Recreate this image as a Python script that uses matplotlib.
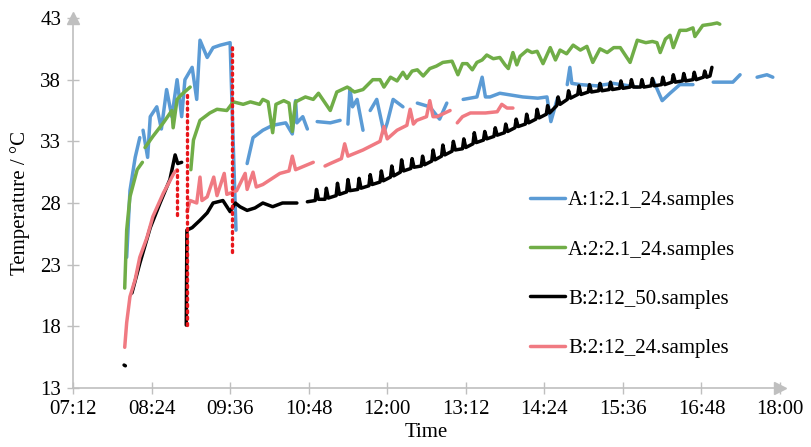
import numpy as np
import matplotlib.pyplot as plt

nan = np.nan

# ---------------- data (time in decimal hours, temperature in degC) ----------------
blue_t = [8.02, 8.07, 8.15, 8.22, nan, 8.27, 8.34, 8.38, 8.48, 8.55, 8.63, 8.71, 8.79, 8.86, 8.91,
          9.02, 9.09, 9.14, 9.25, 9.34, 9.45, 9.60, 9.66, 9.69, nan, 9.86, 9.95, 10.10, 10.25, 10.45,
          10.55, 10.60, 10.62, 10.71, 10.78, nan, 10.93, 11.13, 11.28, nan, 11.40, 11.43, 11.47, 11.54,
          11.63, nan, 11.74, 11.84, 11.95, 12.00, 12.09, 12.24, nan, 12.46, 12.65, 12.80, 12.91, nan,
          13.16, 13.37, 13.45, 13.50, 13.57, 13.72, 14.07, 14.30, 14.44, 14.50, 14.60, nan, 14.75,
          14.79, 14.82, 14.95, 15.20, 15.45, 15.82, nan, 16.06, 16.20, 16.32, 16.47, 16.67, nan,
          16.98, 17.28, 17.39, nan, 17.65, 17.80, 17.89]
blue_y = [23.6, 29.0, 31.7, 33.3, nan, 33.9, 31.7, 35.0, 35.8, 34.0, 37.2, 35.0, 38.0, 35.0, 38.0,
          39.0, 36.4, 41.2, 39.8, 40.6, 40.8, 41.0, 30.7, 25.8, nan, 31.2, 33.3, 33.9, 34.3, 34.5,
          33.6, 36.3, 34.5, 35.0, 34.0, nan, 34.6, 34.5, 34.7, nan, 34.4, 37.3, 35.8, 36.4,
          33.9, nan, 35.5, 36.4, 33.7, 34.5, 36.4, 35.8, nan, 36.1, 35.8, 34.8, 36.1, nan,
          36.4, 36.6, 38.2, 36.6, 36.6, 36.9, 36.6, 36.5, 36.6, 34.6, 36.5, nan, 37.6,
          39.0, 37.7, 37.6, 37.5, 37.7, 37.4, nan, 38.0, 36.3, 36.9, 37.6, 37.6, nan,
          37.8, 37.8, 38.4, nan, 38.2, 38.4, 38.2]

green_t = [7.99, 8.02, 8.07, 8.18, 8.26, nan, 8.30, 8.42, 8.58, 8.71, 8.73, 8.79, 8.86, 8.99, nan,
           9.00, 9.04, 9.14, 9.29, 9.40, 9.55, 9.65, 9.80, 9.91, 10.05, 10.10, 10.18, 10.25, 10.30,
           10.42, 10.50, 10.55, 10.60, 10.75, 10.87, 10.95, 11.13, 11.23, 11.39, 11.50, 11.63, 11.78,
           11.89, 11.95, 12.05, 12.15, 12.24, 12.30, 12.38, 12.46, 12.55, 12.65, 12.75, 12.85, 12.99,
           13.08, 13.15, 13.22, 13.30, 13.37, 13.45, 13.52, 13.62, 13.72, 13.80, 13.85, 13.92, 13.98,
           14.03, 14.14, 14.21, 14.29, 14.38, 14.49, 14.57, 14.64, 14.74, 14.84, 14.95, 15.05, 15.14,
           15.25, 15.36, 15.46, 15.56, 15.71, 15.82, 15.95, 16.05, 16.12, 16.17, 16.25, 16.32, 16.37,
           16.47, 16.57, 16.67, 16.70, 16.82, 16.95, 17.04, 17.08]
green_y = [21.1, 25.8, 28.5, 30.7, 31.3, nan, 32.5, 33.4, 34.5, 35.5, 34.1, 36.4, 36.8, 37.4, nan,
           30.7, 33.1, 34.7, 35.3, 35.6, 35.5, 36.2, 36.0, 36.2, 36.0, 36.4, 36.2, 33.7, 36.0,
           36.3, 36.1, 33.8, 36.2, 36.6, 36.4, 36.9, 35.5, 37.0, 37.4, 37.0, 37.2, 38.0,
           38.0, 37.4, 38.2, 37.9, 38.6, 38.1, 38.7, 38.8, 38.3, 38.9, 39.1, 39.4, 39.5,
           38.4, 39.3, 39.3, 38.8, 39.4, 39.6, 40.0, 39.7, 39.8, 39.2, 38.9, 40.2, 39.2,
           39.9, 40.4, 40.2, 40.3, 39.3, 40.6, 39.6, 40.4, 40.1, 40.8, 40.4, 40.7, 39.4,
           40.5, 40.2, 40.6, 40.6, 39.4, 41.2, 41.0, 41.1, 41.0, 40.2, 41.3, 41.6, 40.6,
           42.0, 42.0, 42.2, 41.5, 42.4, 42.5, 42.6, 42.5]

black_t = [7.98, 8.00, nan, 8.10, 8.22, 8.38, 8.53, 8.68, 8.76, 8.80, 8.86, nan, 8.93, 8.94, 9.02,
           9.14, 9.25, 9.34, 9.49, 9.60, 9.68, 9.75, 9.86, 9.98, 10.10, 10.25, 10.40, 10.62, nan,
           10.78, 10.90, 10.92, 10.95, 11.05, 11.07, 11.10, 11.22, 11.24, 11.27, 11.38, 11.40, 11.43,
           11.55, 11.57, 11.60, 11.72, 11.74, 11.77, 11.89, 11.91, 11.94, 12.05, 12.07, 12.10, 12.20,
           12.22, 12.25, 12.36, 12.38, 12.41, 12.52, 12.54, 12.57, 12.68, 12.70, 12.73, 12.83, 12.85,
           12.88, 12.99, 13.01, 13.04, 13.15, 13.17, 13.20, 13.31, 13.33, 13.36, 13.47, 13.49, 13.52,
           13.63, 13.65, 13.68, 13.79, 13.81, 13.84, 13.95, 13.97, 14.00, 14.11, 14.13, 14.16, 14.27,
           14.29, 14.32, 14.43, 14.45, 14.48, 14.59, 14.61, 14.64, 14.75, 14.77, 14.80, 14.91, 14.93,
           14.96, 15.07, 15.09, 15.12, 15.23, 15.25, 15.28, 15.39, 15.41, 15.44, 15.55, 15.57, 15.60,
           15.71, 15.73, 15.76, 15.87, 15.89, 15.92, 16.03, 16.05, 16.08, 16.19, 16.21, 16.24, 16.35,
           16.37, 16.40, 16.51, 16.53, 16.56, 16.67, 16.69, 16.72, 16.83, 16.85, 16.88, 16.93, 16.96]
black_y = [14.86, 14.80, nan, 20.7, 23.1, 26.0, 28.0, 29.9, 31.9, 31.2, 31.3, nan, 18.1, 25.8, 26.0,
           26.6, 27.2, 28.0, 28.2, 27.3, 28.0, 27.7, 27.4, 27.6, 28.0, 27.7, 28.0, 28.0, nan,
           28.1, 28.2, 29.1, 28.3, 28.3, 29.2, 28.4, 28.6, 29.6, 28.7, 28.9, 29.9, 29.0,
           29.1, 30.0, 29.2, 29.4, 30.3, 29.5, 29.7, 30.6, 29.8, 30.1, 31.0, 30.2, 30.5,
           31.5, 30.6, 30.8, 31.6, 30.9, 31.0, 31.8, 31.1, 31.4, 32.3, 31.5, 31.8, 32.7,
           31.9, 32.2, 33.0, 32.3, 32.4, 33.2, 32.5, 32.8, 33.7, 32.9, 33.1, 33.8, 33.2,
           33.4, 34.1, 33.5, 33.7, 34.4, 33.8, 34.1, 34.8, 34.2, 34.4, 35.2, 34.5, 34.8,
           35.6, 34.9, 35.2, 35.9, 35.3, 35.9, 36.6, 36.0, 36.4, 37.1, 36.5, 36.8, 37.5,
           36.8, 37.0, 37.6, 37.0, 37.1, 37.7, 37.1, 37.2, 37.8, 37.2, 37.3, 37.9, 37.3,
           37.4, 38.0, 37.4, 37.4, 38.0, 37.4, 37.5, 38.1, 37.5, 37.6, 38.2, 37.6, 37.8,
           38.4, 37.8, 37.9, 38.5, 37.9, 38.0, 38.6, 38.0, 38.2, 38.7, 38.2, 38.3, 39.0]

pink_t = [7.99, 8.02, 8.07, 8.15, 8.22, 8.33, 8.42, 8.58, 8.74, 8.79, nan, 8.94, 8.99, 9.09, 9.14,
          9.17, 9.25, 9.35, 9.40, 9.51, 9.55, 9.60, 9.70, 9.83, 9.86, 9.95, 10.00, 10.10, 10.36,
          10.50, 10.55, 10.60, 10.87, nan, 11.05, 11.13, 11.30, 11.35, 11.40, 11.63, 11.89, 11.95,
          12.00, 12.15, 12.30, 12.35, 12.40, 12.45, 12.60, 12.65, 12.70, 12.76, 12.96, nan, 13.07,
          13.15, 13.27, 13.50, 13.68, 13.75, 13.83, 13.92]
pink_y = [16.3, 18.3, 20.4, 21.8, 23.6, 25.2, 26.9, 28.8, 30.4, 30.7, nan, 27.3, 28.2, 28.0, 30.1,
          28.2, 28.5, 30.1, 28.6, 30.4, 28.7, 28.8, 29.0, 30.4, 29.1, 30.5, 29.3, 29.5, 30.4,
          30.6, 31.8, 30.7, 31.3, nan, 31.0, 31.2, 31.6, 32.8, 31.8, 32.3, 33.0, 34.2,
          33.2, 33.9, 34.3, 35.6, 34.4, 34.7, 35.0, 36.3, 35.0, 35.0, 35.5, nan, 34.5,
          35.0, 35.3, 35.3, 35.4, 36.0, 35.7, 35.7]

# red dotted marker lines
mark_t = [8.79, 8.94, 9.63]
mark_top = [30.7, 36.8, 41.0]
mark_bot = [27.0, 18.1, 24.0]

series = [(blue_t, blue_y, '#5B9BD5', 'A:1:2.1_24.samples'),
          (green_t, green_y, '#70AD47', 'A:2:2.1_24.samples'),
          (black_t, black_y, '#000000', 'B:2:12_50.samples'),
          (pink_t, pink_y, '#F07A82', 'B:2:12_24.samples')]

x_ticks = [7.2, 8.4, 9.6, 10.8, 12.0, 13.2, 14.4, 15.6, 16.8, 18.0]
x_labels = ['07:12', '08:24', '09:36', '10:48', '12:00', '13:12', '14:24', '15:36', '16:48', '18:00']
y_ticks = [13, 18, 23, 28, 33, 38, 43]

# ---------------- plot ----------------
plt.rcParams['font.family'] = 'Liberation Serif'
fig = plt.figure(figsize=(8.12, 4.47), dpi=100)
ax = fig.add_axes([0.0899, 0.132, 0.8707, 0.8277])

for t, y, c, lab in series:
    ax.plot(t, y, color=c, lw=2.5, label=lab, solid_joinstyle='round', solid_capstyle='round')

for i in range(len(mark_t)):
    ax.plot([mark_t[i], mark_t[i]], [mark_bot[i], mark_top[i]], color='#E8161B', lw=2.4,
            linestyle=(0, (0.6, 1.3)), dash_capstyle='round')

ax.set_xlim(7.2, 18.0)
ax.set_ylim(13, 43)
ax.set_xticks(x_ticks)
ax.set_xticklabels(x_labels)
ax.set_yticks(y_ticks)

gray = '#BFBFBF'
for s in ['top', 'right']:
    ax.spines[s].set_visible(False)
for s in ['left', 'bottom']:
    ax.spines[s].set_color(gray)
    ax.spines[s].set_linewidth(1.2)
ax.tick_params(direction='inout', length=9, width=1.0, color=gray, labelsize=15, pad=4)
ax.tick_params(axis='x', pad=4)

# excel style arrow heads
ax.plot([0], [1], marker='^', ms=8, color=gray, transform=ax.transAxes, clip_on=False)
ax.plot([1], [0], marker='>', ms=8, color=gray, transform=ax.transAxes, clip_on=False)

ax.set_xlabel('Time', fontsize=15, labelpad=3)
ax.set_ylabel('Temperature / °C', fontsize=15, labelpad=7)

ax.legend(loc='upper left', bbox_to_anchor=(0.646, 0.533), frameon=False, fontsize=15,
          labelspacing=1.42, handlelength=1.7, handletextpad=0.15, borderpad=0, borderaxespad=0)

fig.savefig('out.png', dpi=100)
